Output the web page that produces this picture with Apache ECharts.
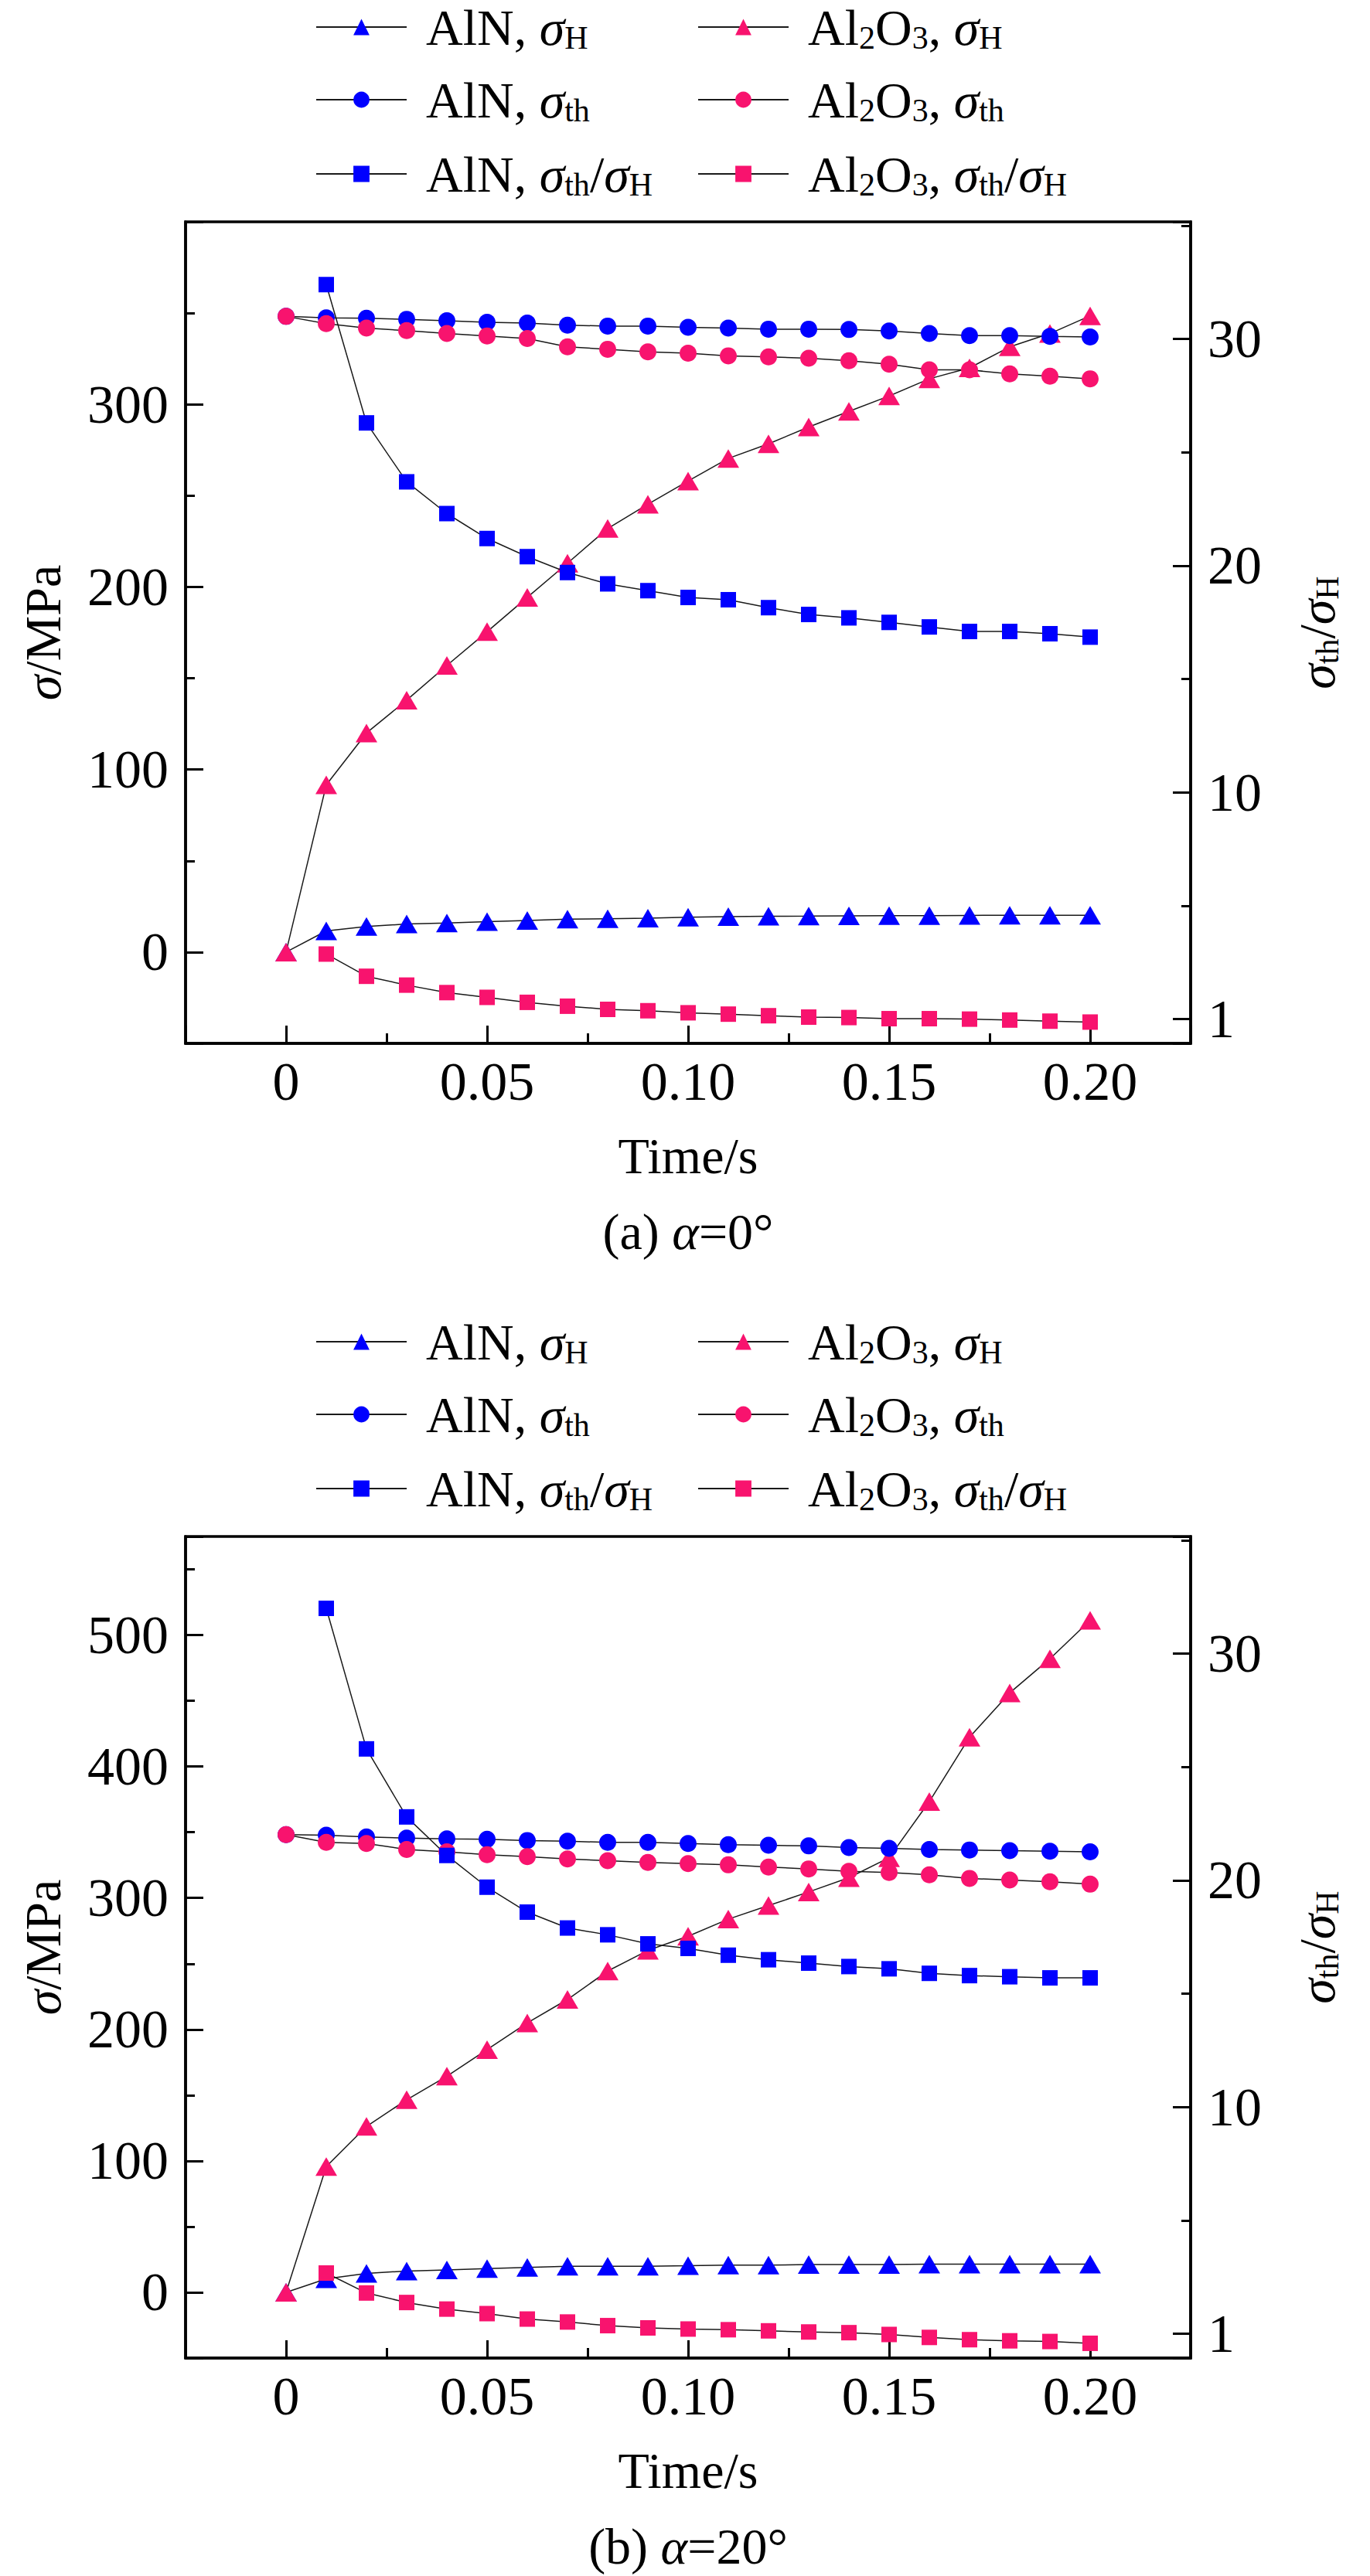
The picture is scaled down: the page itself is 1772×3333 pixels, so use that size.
<!DOCTYPE html>
<html>
<head>
<meta charset="utf-8">
<script src="https://cdn.jsdelivr.net/npm/echarts@6.0.0/dist/echarts.min.js"></script>
<style>
  html, body { margin: 0; padding: 0; background: #fff; }
  #chart { width: 1772px; height: 3333px; }
</style>
</head>
<body>
<div id="chart"></div>
<script>
// time axis (s)
const times = [0, 0.01, 0.02, 0.03, 0.04, 0.05, 0.06, 0.07, 0.08, 0.09, 0.10,
  0.11, 0.12, 0.13, 0.14, 0.15, 0.16, 0.17, 0.18, 0.19, 0.20];

// (a) alpha = 0 deg, left axis in MPa
const aAlnH = [0, 11.6, 14.0, 15.4, 15.9, 16.7, 17.3, 18.0, 18.3, 18.6, 19.1,
  19.4, 19.6, 19.7, 19.9, 20.0, 20.0, 20.1, 20.2, 20.2, 20.2];
const aAl2o3H = [0, 91.6, 120, 138, 157, 175.5, 194.3, 213, 232, 245.3, 258,
  270.4, 278.4, 287.6, 296.2, 304.6, 314, 320, 331.5, 338.8, 348.5];
const aAlnTh = [348.2, 347.4, 347.2, 346.6, 345.8, 345.0, 344.5, 343.4, 342.9, 342.9, 342.2,
  341.8, 341.2, 341.2, 341.0, 340.2, 338.8, 337.7, 337.7, 337.2, 336.9];
const aAl2o3Th = [348.2, 344.2, 341.8, 340.4, 338.8, 337.5, 336.1, 331.5, 330.2, 328.8, 328.0,
  326.6, 326.0, 325.3, 323.9, 322.0, 318.9, 318.9, 316.7, 315.4, 314.0];
// ratio, right axis (axis position of the "1" tick is 0)
const aAlnR = [null, 32.4, 26.3, 23.7, 22.3, 21.2, 20.4, 19.7, 19.2, 18.9, 18.6,
  18.5, 18.15, 17.85, 17.7, 17.5, 17.3, 17.1, 17.1, 17.0, 16.85];
const aAl2o3R = [null, 2.87, 1.89, 1.5, 1.17, 0.96, 0.74, 0.57, 0.43, 0.37, 0.28,
  0.22, 0.15, 0.09, 0.07, 0.02, 0.02, 0.0, -0.04, -0.09, -0.13];

// (b) alpha = 20 deg
const bAlnH = [0, 10.3, 14.4, 16.2, 17.0, 18.0, 18.9, 19.8, 19.8, 19.8, 20.2,
  20.7, 20.7, 21.1, 21.1, 21.1, 21.5, 21.5, 21.5, 21.5, 21.5];
const bAl2o3H = [0, 95.7, 126.2, 146.5, 164.4, 184.6, 204.9, 222.8, 244.4, 260.1, 270.9,
  283.9, 294.2, 304.6, 315.4, 330.6, 373.3, 422.3, 456.0, 482.0, 511.2];
const bAlnTh = [348.2, 347.7, 346.4, 345.5, 345.0, 344.6, 343.7, 343.2, 342.3, 342.3, 341.4,
  340.5, 340.1, 339.6, 338.3, 337.8, 336.9, 336.5, 336.0, 335.6, 335.1];
const bAl2o3Th = [348.2, 342.3, 341.4, 336.9, 335.1, 332.9, 331.5, 329.7, 328.4, 327.0, 326.1,
  325.2, 323.5, 322.1, 320.3, 319.4, 317.6, 314.9, 313.6, 312.3, 310.5];
const bAlnR = [null, 32.0, 25.8, 22.8, 21.1, 19.7, 18.6, 17.9, 17.6, 17.2, 17.0,
  16.7, 16.5, 16.35, 16.2, 16.1, 15.9, 15.8, 15.75, 15.7, 15.7];
const bAl2o3R = [null, 2.68, 1.8, 1.38, 1.09, 0.89, 0.65, 0.52, 0.36, 0.26, 0.21,
  0.18, 0.13, 0.08, 0.05, -0.03, -0.16, -0.26, -0.31, -0.34, -0.42];

// axis ranges and tick labels
const xRange = [-0.025, 0.225];
const xTickLabels = ['0', '0.05', '0.10', '0.15', '0.20'];
const leftRanges = [[-50, 400], [-50, 575]];
const rightRange = [-1.07, 35.17];
const rightTickLabels = { 0: '1', 10: '10', 20: '20', 30: '30' };
const captions = ['(a) ', '(b) '];
const angles = ['0°', '20°'];

const FONT = '"Liberation Serif", "Times New Roman", serif';
const BLUE = '#0000FF';
const PINK = '#F8136E';

const legendRich = {
  n: { fontFamily: FONT, fontSize: 66, lineHeight: 70, color: '#000' },
  f: { fontFamily: FONT, fontSize: 66, lineHeight: 70, color: '#000', padding: [0, 0, 0, 20] },
  i: { fontFamily: FONT, fontSize: 66, lineHeight: 70, fontStyle: 'italic', color: '#000' },
  s: { fontFamily: FONT, fontSize: 42, lineHeight: 24, verticalAlign: 'bottom', color: '#000' }
};
const nameRich = {
  n: { fontFamily: FONT, fontSize: 66, lineHeight: 70, color: '#000' },
  i: { fontFamily: FONT, fontSize: 66, lineHeight: 70, fontStyle: 'italic', color: '#000' },
  s: { fontFamily: FONT, fontSize: 42, lineHeight: 24, verticalAlign: 'bottom', color: '#000' }
};

const seriesDefs = [
  { key: 'AlnH', color: BLUE, symbol: 'triangle', size: [28, 24], axis: 'L',
    label: '{f|AlN, }{i|σ}{s|H}' },
  { key: 'Al2o3H', color: PINK, symbol: 'triangle', size: [28, 24], axis: 'L',
    label: '{f|Al}{s|2}{n|O}{s|3}{n|, }{i|σ}{s|H}' },
  { key: 'AlnTh', color: BLUE, symbol: 'circle', size: 22, axis: 'L',
    label: '{f|AlN, }{i|σ}{s|th}' },
  { key: 'Al2o3Th', color: PINK, symbol: 'circle', size: 22, axis: 'L',
    label: '{f|Al}{s|2}{n|O}{s|3}{n|, }{i|σ}{s|th}' },
  { key: 'AlnR', color: BLUE, symbol: 'rect', size: 20, axis: 'R',
    label: '{f|AlN, }{i|σ}{s|th}{n|/}{i|σ}{s|H}' },
  { key: 'Al2o3R', color: PINK, symbol: 'rect', size: 20, axis: 'R',
    label: '{f|Al}{s|2}{n|O}{s|3}{n|, }{i|σ}{s|th}{n|/}{i|σ}{s|H}' }
];
const panelData = [
  { AlnH: aAlnH, Al2o3H: aAl2o3H, AlnTh: aAlnTh, Al2o3Th: aAl2o3Th, AlnR: aAlnR, Al2o3R: aAl2o3R },
  { AlnH: bAlnH, Al2o3H: bAl2o3H, AlnTh: bAlnTh, Al2o3Th: bAl2o3Th, AlnR: bAlnR, Al2o3R: bAl2o3R }
];

// page layout
const PANEL_SHIFT = 1701;
const GRID = { left: 240, width: 1300, top: 287, height: 1063 };
const legendCols = [408, 902];
const legendRowTops = [2, 96, 192];

const labelFor = {};
const grids = [], xAxes = [], yAxes = [], series = [], legends = [], graphics = [];

function tickStyle(len) {
  return { show: true, inside: true, length: len, lineStyle: { color: '#000', width: 3 } };
}
function frameLine(show) {
  return { show: show, onZero: false, lineStyle: { color: '#000', width: 3.5 } };
}

for (let p = 0; p < 2; p++) {
  const dy = p * PANEL_SHIFT;
  grids.push({
    left: GRID.left, top: GRID.top + dy, width: GRID.width, height: GRID.height,
    show: true, borderColor: '#000', borderWidth: 3.5, backgroundColor: 'transparent',
    outerBoundsMode: 'none'
  });

  const xMain = xAxes.length;
  xAxes.push({
    type: 'value', gridIndex: p, position: 'bottom',
    min: xRange[0], max: xRange[1], minInterval: 0.05, maxInterval: 0.05,
    axisLine: frameLine(true),
    axisTick: tickStyle(23),
    splitLine: { show: false },
    axisLabel: {
      fontFamily: FONT, fontSize: 70, color: '#000', margin: 14,
      formatter: v => {
        const k = Math.round(v / 0.05);
        if (k < 0 || Math.abs(v - k * 0.05) > 1e-9) return '';
        return xTickLabels[k] || '';
      }
    },
    name: 'Time/s', nameLocation: 'middle', nameGap: 112,
    nameTextStyle: { fontFamily: FONT, fontSize: 66, color: '#000' }
  });
  xAxes.push({
    type: 'value', gridIndex: p, position: 'bottom',
    min: xRange[0], max: xRange[1], minInterval: 0.025, maxInterval: 0.025,
    axisLine: frameLine(false), axisTick: tickStyle(13),
    axisLabel: { show: false }, splitLine: { show: false }
  });

  const lr = leftRanges[p];
  const yLeft = yAxes.length;
  yAxes.push({
    type: 'value', gridIndex: p, position: 'left',
    min: lr[0], max: lr[1], minInterval: 100, maxInterval: 100,
    axisLine: frameLine(true),
    axisTick: tickStyle(23),
    splitLine: { show: false },
    axisLabel: {
      fontFamily: FONT, fontSize: 70, color: '#000', margin: 22,
      formatter: v => (v < 0 || Math.abs(v % 100) > 1e-9 || v >= lr[1]) ? '' : String(Math.round(v))
    },
    name: '{i|σ}{n|/MPa}', nameLocation: 'middle', nameGap: 150, nameRotate: 90,
    nameTextStyle: { rich: nameRich }
  });
  yAxes.push({
    type: 'value', gridIndex: p, position: 'left',
    min: lr[0], max: lr[1], minInterval: 50, maxInterval: 50,
    axisLine: frameLine(false), axisTick: tickStyle(12),
    axisLabel: { show: false }, splitLine: { show: false }
  });
  const yRight = yAxes.length;
  yAxes.push({
    type: 'value', gridIndex: p, position: 'right',
    min: rightRange[0], max: rightRange[1], minInterval: 10, maxInterval: 10,
    axisLine: frameLine(true),
    axisTick: tickStyle(23),
    splitLine: { show: false },
    axisLabel: {
      fontFamily: FONT, fontSize: 70, color: '#000', margin: 22,
      formatter: v => {
        const k = Math.round(v);
        if (Math.abs(v - k) > 1e-9) return '';
        return rightTickLabels[k] || '';
      }
    },
    name: '{i|σ}{s|th}{n|/}{i|σ}{s|H}', nameLocation: 'middle', nameGap: 128, nameRotate: 90,
    nameTextStyle: { rich: nameRich }
  });
  yAxes.push({
    type: 'value', gridIndex: p, position: 'right',
    min: rightRange[0], max: rightRange[1], minInterval: 5, maxInterval: 5,
    axisLine: frameLine(false), axisTick: tickStyle(12),
    axisLabel: { show: false }, splitLine: { show: false }
  });

  seriesDefs.forEach((d, idx) => {
    const name = (p === 0 ? 'a-' : 'b-') + d.key;
    labelFor[name] = d.label;
    const vals = panelData[p][d.key];
    series.push({
      name: name, type: 'line',
      xAxisIndex: xMain, yAxisIndex: d.axis === 'L' ? yLeft : yRight,
      data: times.map((t, i) => [t, vals[i]]),
      symbol: d.symbol, symbolSize: d.size, showAllSymbol: true,
      itemStyle: { color: d.color, opacity: 1 },
      lineStyle: { color: '#1a1a1a', width: 1.5 },
      emphasis: { disabled: true },
      z: 2 + idx
    });
    const row = Math.floor(idx / 2), col = idx % 2;
    legends.push({
      data: [name], left: legendCols[col], top: legendRowTops[row] + dy,
      padding: 0, itemWidth: 117, itemHeight: 26, selectedMode: false,
      formatter: n => labelFor[n],
      textStyle: { rich: legendRich }
    });
  });

  graphics.push({
    type: 'text', x: GRID.left + GRID.width / 2, y: 1593 + dy,
    style: {
      text: '{n|' + captions[p] + '}{i|α}{n|=' + angles[p] + '}',
      rich: {
        n: { fontFamily: FONT, fontSize: 66, color: '#000' },
        i: { fontFamily: FONT, fontSize: 66, fontStyle: 'italic', color: '#000' }
      },
      align: 'center', verticalAlign: 'middle'
    }
  });
}

const chart = echarts.init(document.getElementById('chart'), null, { renderer: 'svg' });
chart.setOption({
  animation: false,
  backgroundColor: '#fff',
  grid: grids,
  xAxis: xAxes,
  yAxis: yAxes,
  legend: legends,
  series: series,
  graphic: graphics
});
</script>
</body>
</html>
